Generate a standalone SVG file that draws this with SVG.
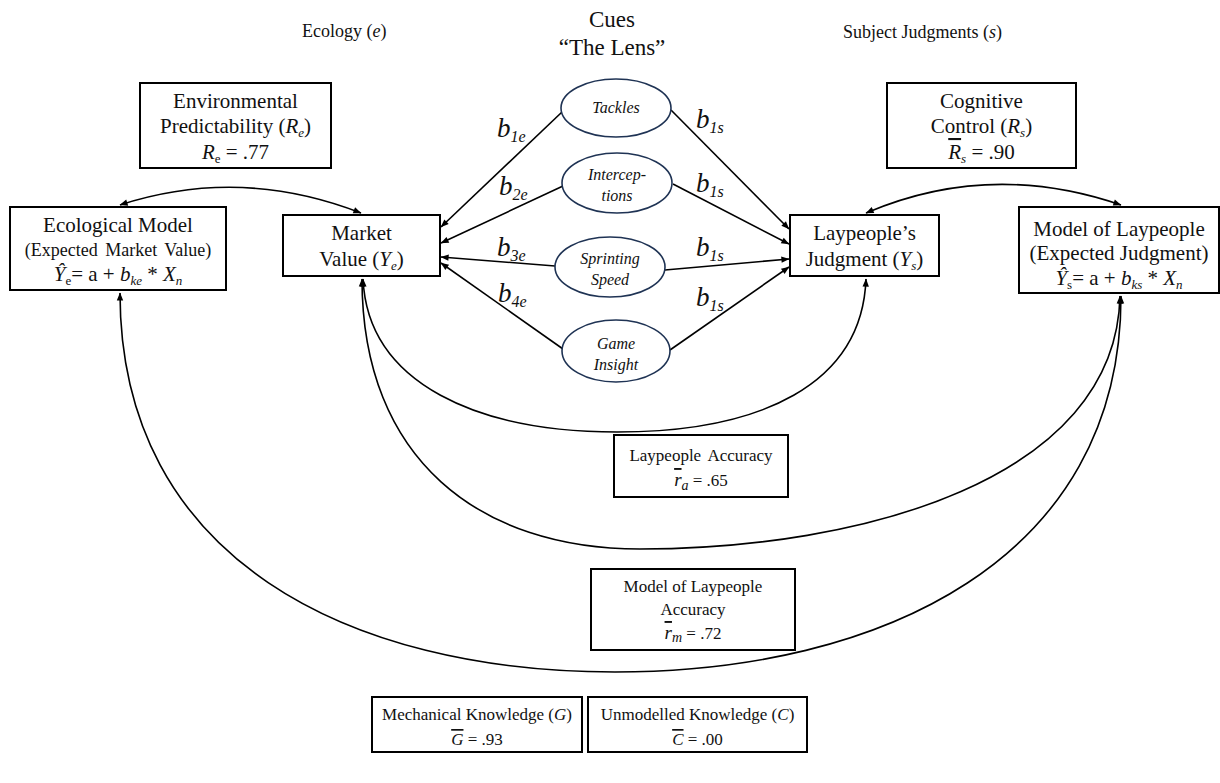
<svg xmlns="http://www.w3.org/2000/svg" width="1220" height="783" viewBox="0 0 1220 783" font-family="'Liberation Serif','Times New Roman',serif">
<style>
text{font-family:"Liberation Serif","Times New Roman",serif;fill:#111;}
.t21{font-size:21px;}
.t18{font-size:18px;}
.t17{font-size:17px;}
.t23{font-size:23px;}
.it{font-style:italic;}
.box{fill:#fff;stroke:#000;stroke-width:2;}
.ell{fill:#fff;stroke:#1f3354;stroke-width:1.6;}
.cue{font-size:16px;font-style:italic;}
.lbl{font-size:27px;font-style:italic;}
.sub{font-size:16px;font-style:italic;}
.conn path,.conn line{fill:none;stroke:#000;stroke-width:1.6;}
.ov{text-decoration:overline;}
</style>
<defs>
<marker id="ah" viewBox="0 0 10 10" refX="9.5" refY="5" markerWidth="9" markerHeight="8" markerUnits="userSpaceOnUse" orient="auto-start-reverse">
<path d="M0,1 L10,5 L0,9 z" fill="#000"/>
</marker>
</defs>

<g id="headers">
<text x="302" y="37" class="t18">Ecology (<tspan class="it">e</tspan>)</text>
<text x="612" y="27" class="t23" text-anchor="middle">Cues</text>
<text x="612" y="55" class="t23" text-anchor="middle">“The Lens”</text>
<text x="843" y="38" class="t18">Subject Judgments (<tspan class="it">s</tspan>)</text>
</g>

<g class="conn" id="connectors">
<path d="M120,205 Q240,166 361,213" marker-start="url(#ah)" marker-end="url(#ah)"/>
<path d="M866,213 Q990,160 1121,205" marker-start="url(#ah)" marker-end="url(#ah)"/>
<line x1="562" y1="112" x2="441" y2="227" marker-end="url(#ah)"/>
<line x1="563" y1="186" x2="441" y2="243" marker-end="url(#ah)"/>
<line x1="555" y1="266" x2="441" y2="257" marker-end="url(#ah)"/>
<line x1="563" y1="349" x2="441" y2="263" marker-end="url(#ah)"/>
<line x1="671" y1="110" x2="789" y2="229" marker-end="url(#ah)"/>
<line x1="673" y1="184" x2="789" y2="244" marker-end="url(#ah)"/>
<line x1="665" y1="270" x2="789" y2="259" marker-end="url(#ah)"/>
<line x1="670" y1="350" x2="789" y2="267" marker-end="url(#ah)"/>
<path d="M363,279 C368,385 480,432 617,432 C760,432 862,385 866,279" marker-start="url(#ah)" marker-end="url(#ah)"/>
<path d="M362,279 C362,460 480,549 640,549 C860,549 1116,480 1120,296" marker-start="url(#ah)" marker-end="url(#ah)"/>
<path d="M120,293 C120,560 350,672 615,672 C880,672 1121,560 1121,296" marker-start="url(#ah)" marker-end="url(#ah)"/>
</g>

<g id="env-predictability">
<rect class="box" x="140" y="83" width="191" height="85"/>
<text x="235.5" y="108" class="t21" text-anchor="middle">Environmental</text>
<text x="235.5" y="133" class="t21" text-anchor="middle">Predictability (<tspan class="it">R</tspan><tspan class="it" font-size="13" dy="4">e</tspan><tspan dy="-4">)</tspan></text>
<text x="235.5" y="159" class="t21" text-anchor="middle"><tspan class="it">R</tspan><tspan font-size="13" dy="4">e</tspan><tspan dy="-4"> = .77</tspan></text>
</g>

<g id="cognitive-control">
<rect class="box" x="887" y="83" width="189" height="85"/>
<text x="981.5" y="108" class="t21" text-anchor="middle">Cognitive</text>
<text x="981.5" y="133" class="t21" text-anchor="middle">Control (<tspan class="it">R</tspan><tspan class="it" font-size="13" dy="4">s</tspan><tspan dy="-4">)</tspan></text>
<text x="981.5" y="159" class="t21" text-anchor="middle"><tspan class="it ov">R</tspan><tspan class="it" font-size="13" dy="4">s</tspan><tspan dy="-4"> = .90</tspan></text>
</g>

<g id="ecological-model">
<rect class="box" x="10" y="207" width="216" height="83"/>
<text x="118" y="232" class="t21" text-anchor="middle">Ecological Model</text>
<text x="118" y="256" class="t18" text-anchor="middle" word-spacing="3">(Expected Market Value)</text>
<text x="118" y="281" class="t21" text-anchor="middle"><tspan class="it">Ŷ</tspan><tspan font-size="13" dy="4">e</tspan><tspan dy="-4">= a + </tspan><tspan class="it">b</tspan><tspan class="it" font-size="13" dy="4">ke</tspan><tspan dy="-4"> * </tspan><tspan class="it">X</tspan><tspan class="it" font-size="13" dy="4">n</tspan></text>
</g>

<g id="market-value">
<rect class="box" x="283" y="215" width="157" height="61"/>
<text x="361.5" y="240" class="t21" text-anchor="middle">Market</text>
<text x="361.5" y="266" class="t21" text-anchor="middle">Value (<tspan class="it">Y</tspan><tspan class="it" font-size="13" dy="4">e</tspan><tspan dy="-4">)</tspan></text>
</g>

<g id="laypeople-judgment">
<rect class="box" x="790" y="215" width="149" height="61"/>
<text x="864.5" y="240" class="t21" text-anchor="middle">Laypeople’s</text>
<text x="864.5" y="266" class="t21" text-anchor="middle">Judgment (<tspan class="it">Y</tspan><tspan class="it" font-size="13" dy="4">s</tspan><tspan dy="-4">)</tspan></text>
</g>

<g id="model-of-laypeople">
<rect class="box" x="1019" y="207" width="200" height="86"/>
<text x="1119" y="236" class="t21" text-anchor="middle">Model of Laypeople</text>
<text x="1119" y="260" class="t21" text-anchor="middle">(Expected Judgment)</text>
<text x="1119" y="285" class="t21" text-anchor="middle"><tspan class="it">Ŷ</tspan><tspan font-size="13" dy="4">s</tspan><tspan dy="-4">= a + </tspan><tspan class="it">b</tspan><tspan class="it" font-size="13" dy="4">ks</tspan><tspan dy="-4"> * </tspan><tspan class="it">X</tspan><tspan class="it" font-size="13" dy="4">n</tspan></text>
</g>

<g id="cue-tackles">
<ellipse class="ell" cx="616" cy="108" rx="55" ry="29"/>
<text x="616" y="113" class="cue" text-anchor="middle">Tackles</text>
</g>
<g id="cue-interceptions">
<ellipse class="ell" cx="617" cy="183" rx="55" ry="30"/>
<text x="617" y="180" class="cue" text-anchor="middle">Intercep-</text>
<text x="617" y="201" class="cue" text-anchor="middle">tions</text>
</g>
<g id="cue-sprinting">
<ellipse class="ell" cx="610" cy="267" rx="55" ry="30"/>
<text x="610" y="264" class="cue" text-anchor="middle">Sprinting</text>
<text x="610" y="285" class="cue" text-anchor="middle">Speed</text>
</g>
<g id="cue-game-insight">
<ellipse class="ell" cx="616" cy="351" rx="54" ry="31"/>
<text x="616" y="349" class="cue" text-anchor="middle">Game</text>
<text x="616" y="370" class="cue" text-anchor="middle">Insight</text>
</g>

<g id="weights">
<text x="497" y="137" class="lbl">b<tspan class="sub" dy="5">1e</tspan></text>
<text x="499" y="195" class="lbl">b<tspan class="sub" dy="5">2e</tspan></text>
<text x="497" y="256" class="lbl">b<tspan class="sub" dy="5">3e</tspan></text>
<text x="498" y="302" class="lbl">b<tspan class="sub" dy="5">4e</tspan></text>
<text x="696" y="128" class="lbl">b<tspan class="sub" dy="5">1s</tspan></text>
<text x="696" y="192" class="lbl">b<tspan class="sub" dy="5">1s</tspan></text>
<text x="696" y="256" class="lbl">b<tspan class="sub" dy="5">1s</tspan></text>
<text x="696" y="306" class="lbl">b<tspan class="sub" dy="5">1s</tspan></text>
</g>

<g id="laypeople-accuracy">
<rect class="box" x="614" y="435" width="174" height="62"/>
<text x="701" y="461" class="t17" text-anchor="middle" word-spacing="3">Laypeople Accuracy</text>
<text x="701" y="486" class="t17" text-anchor="middle"><tspan class="it ov" font-size="19">r</tspan><tspan class="it" font-size="14" dy="4">a</tspan><tspan dy="-4"> = .65</tspan></text>
</g>

<g id="model-laypeople-accuracy">
<rect class="box" x="591" y="569" width="204" height="81"/>
<text x="693" y="592" class="t17" text-anchor="middle">Model of Laypeople</text>
<text x="693" y="615" class="t17" text-anchor="middle">Accuracy</text>
<text x="693" y="639" class="t17" text-anchor="middle"><tspan class="it ov" font-size="19">r</tspan><tspan class="it" font-size="14" dy="3">m</tspan><tspan dy="-3"> = .72</tspan></text>
</g>

<g id="mechanical-knowledge">
<rect class="box" x="372" y="697" width="210" height="55"/>
<text x="477" y="720" class="t17" text-anchor="middle">Mechanical Knowledge (<tspan class="it">G</tspan>)</text>
<text x="477" y="745" class="t17" text-anchor="middle"><tspan class="it ov">G</tspan> = .93</text>
</g>

<g id="unmodelled-knowledge">
<rect class="box" x="588" y="697" width="219" height="55"/>
<text x="697.5" y="720" class="t17" text-anchor="middle">Unmodelled Knowledge (<tspan class="it">C</tspan>)</text>
<text x="697.5" y="745" class="t17" text-anchor="middle"><tspan class="it ov">C</tspan> = .00</text>
</g>
</svg>
